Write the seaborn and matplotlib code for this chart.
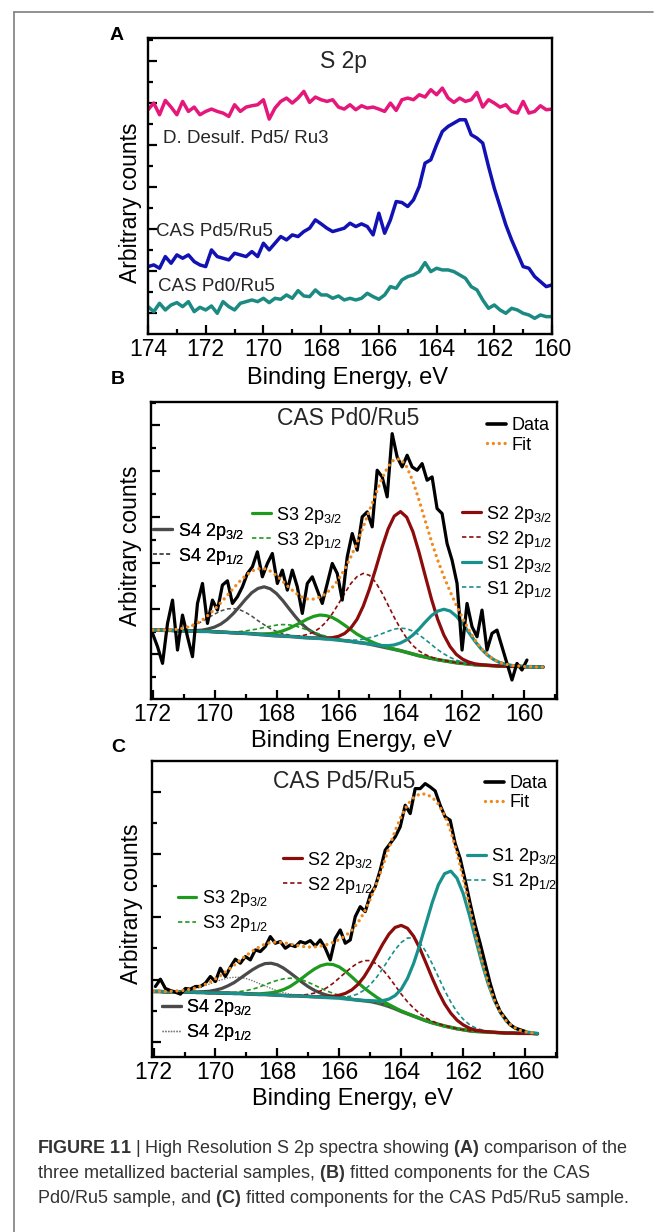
import numpy as np
import pandas as pd
import matplotlib
matplotlib.use("Agg")
import matplotlib.pyplot as plt
import seaborn as sns
from matplotlib.ticker import MultipleLocator
from matplotlib.lines import Line2D

# ---------------- data ----------------
# Panel A : survey of three samples, 174 -> 160 eV
a_energy_range = (174.0, 160.0)
a_desulf = [672, 692, 657, 700, 680, 657, 697, 667, 680, 657,
            667, 674, 667, 662, 652, 687, 667, 680, 684, 687,
            702, 644, 677, 697, 707, 692, 707, 727, 694, 710,
            702, 697, 702, 680, 674, 687, 672, 684, 677, 680,
            674, 667, 692, 670, 702, 707, 702, 717, 710, 732,
            717, 737, 707, 694, 707, 697, 702, 724, 680, 702,
            692, 680, 687, 667, 662, 697, 662, 667, 684, 672, 674]
a_pd5 = [202, 207, 197, 232, 212, 237, 227, 237, 217, 207,
         202, 252, 232, 227, 222, 242, 237, 232, 247, 232,
         272, 252, 272, 292, 282, 297, 292, 307, 317, 342,
         330, 317, 307, 312, 317, 332, 322, 330, 322, 297,
         362, 302, 342, 397, 394, 382, 402, 442, 512, 522,
         567, 607, 622, 632, 642, 642, 597, 587, 572, 502,
         437, 382, 327, 282, 242, 202, 197, 172, 157, 142, 147]
a_pd0 = [82, 67, 92, 72, 87, 94, 82, 97, 67, 80,
         72, 84, 62, 97, 82, 72, 92, 97, 102, 97,
         107, 94, 107, 104, 117, 107, 130, 114, 112, 132,
         117, 117, 107, 114, 102, 107, 102, 107, 122, 112,
         104, 117, 142, 137, 162, 172, 177, 187, 214, 187,
         197, 192, 192, 187, 177, 167, 142, 132, 102, 77,
         87, 72, 62, 77, 72, 62, 57, 47, 57, 52, 52]

# Panel B : CAS Pd0/Ru5
b_data_range = (172.0, 159.92)
b_data = [197, 157, 107, 227, 297, 147, 252, 187, 127, 287,
          347, 227, 297, 267, 342, 355, 287, 307, 337, 377,
          397, 442, 367, 407, 437, 347, 387, 327, 387, 337,
          257, 347, 367, 327, 287, 347, 407, 377, 297, 427,
          497, 447, 547, 562, 517, 687, 667, 607, 797, 727,
          697, 732, 697, 687, 707, 657, 667, 572, 557, 467,
          417, 347, 147, 287, 217, 187, 267, 147, 197, 207,
          157, 107, 57, 107, 87, 117]
b_fit_range = (172.0, 159.4)
b_background = [207, 207, 206, 206, 205, 205, 204, 204, 203, 203,
                202, 201, 200, 199, 198, 197, 196, 194, 193, 191,
                190, 189, 188, 187, 185, 184, 183, 182, 180, 179,
                177, 175, 173, 170, 168, 165, 161, 157, 153, 149,
                145, 140, 135, 130, 126, 122, 118, 115, 112, 109,
                107, 105, 103, 102, 101, 100, 99, 99, 98, 98,
                97, 97, 96, 96]
components = ["S1 2p3/2", "S1 2p1/2", "S2 2p3/2", "S2 2p1/2",
              "S3 2p3/2", "S3 2p1/2", "S4 2p3/2", "S4 2p1/2"]
b_centers = [162.54, 163.78, 163.98, 165.14, 166.49, 167.68, 168.38, 169.40]
b_heights = [155, 71, 418, 210, 71, 35, 144, 73]
b_sigma = 0.75

# Panel C : CAS Pd5/Ru5
c_data_range = (171.94, 160.0)
c_data = [212, 234, 206, 200, 195, 189, 206, 204, 212, 212,
          222, 242, 227, 267, 242, 270, 294, 282, 302, 292,
          322, 317, 332, 362, 342, 347, 327, 337, 332, 347,
          342, 350, 334, 352, 327, 292, 357, 382, 342, 352,
          422, 452, 437, 487, 512, 562, 622, 642, 662, 692,
          757, 732, 807, 807, 822, 812, 800, 757, 722, 712,
          642, 597, 532, 462, 397, 342, 282, 222, 172, 137,
          117, 97, 87, 82, 77]
c_fit_range = (172.0, 159.6)
c_background = [197, 197, 196, 196, 196, 195, 195, 194, 194, 193,
                193, 192, 192, 191, 191, 190, 189, 188, 188, 187,
                186, 185, 184, 184, 183, 182, 181, 180, 179, 178,
                177, 175, 173, 171, 169, 167, 163, 158, 152, 145,
                137, 130, 123, 116, 109, 103, 98, 93, 89, 85,
                82, 79, 77, 76, 75, 74, 73, 72, 72, 71,
                71, 71, 70]
c_centers = [162.42, 163.60, 163.92, 165.05, 166.31, 167.53, 168.23, 169.30]
c_heights = [470, 235, 260, 123, 101, 53, 95, 49]
c_sigma = 0.80

# ---------------- style ----------------
sns.set_theme(style="ticks")
plt.rcParams["font.family"] = ["Liberation Sans", "DejaVu Sans"]
plt.rcParams["mathtext.fontset"] = "custom"
plt.rcParams["mathtext.rm"] = "Liberation Sans"
plt.rcParams["mathtext.it"] = "Liberation Sans:italic"
plt.rcParams["mathtext.bf"] = "Liberation Sans:bold"
plt.rcParams["axes.linewidth"] = 1.6

C_PINK = "#E5177B"
C_BLUE = "#1111B4"
C_TEAL_A = "#1B8A82"
C_S1 = "#18918C"
C_S2 = "#8C0C0C"
C_S3 = "#1E9A1E"
C_S4 = "#4A4A4A"
C_BG = "#C0C0C0"
C_FIT = "#F0891E"
DOTS = (0, (0.01, 1.75))
DASH = (0, (2.6, 1.7))

fig = plt.figure(figsize=(6.71, 12.32), dpi=100)
W, H = 671.0, 1232.0


def add_axes(l, t, r, b):
    return fig.add_axes([l / W, 1 - b / H, (r - l) / W, (b - t) / H])


def style_axes(ax, xlim, ylim, ymajor, yminor, ylab_xy, xlab_y):
    ax.set_xlim(*xlim)
    ax.set_ylim(*ylim)
    ax.xaxis.set_major_locator(MultipleLocator(2))
    ax.xaxis.set_minor_locator(MultipleLocator(1))
    ax.set_yticks(ymajor)
    ax.set_yticks(yminor, minor=True)
    ax.set_yticklabels([])
    ax.tick_params(axis="both", which="both", direction="in",
                   top=False, right=False, left=True, bottom=True,
                   color="black", width=1.6)
    ax.tick_params(which="major", length=6.5)
    ax.tick_params(which="minor", length=3.8)
    ax.tick_params(axis="x", labelsize=16.5, pad=3.2, labelcolor="black")
    for sp in ax.spines.values():
        sp.set_linewidth(1.7)
        sp.set_color("black")
    ax.set_xlabel("Binding Energy, eV", fontsize=17, color="black")
    ax.set_ylabel("Arbitrary counts", fontsize=16.5, color="black")
    ax.yaxis.set_label_coords(*ylab_xy)
    ax.xaxis.set_label_coords(0.495, xlab_y)
    ax.grid(False)
    ax.set_facecolor("white")


def line(ax, x, y, **kw):
    df = pd.DataFrame({"x": x, "y": y})
    sns.lineplot(data=df, x="x", y="y", ax=ax, estimator=None, sort=False,
                 legend=False, **kw)


def mini_legend(ax, entries, fx, fy, spacing=0.22, hl=1.05, fs=13):
    handles, labels = [], []
    for lab, col, lw, ls in entries:
        handles.append(Line2D([], [], color=col, lw=lw, linestyle=ls,
                              dash_capstyle="round" if ls is DOTS else "butt"))
        labels.append(lab)
    leg = ax.legend(handles, labels, loc="center left", bbox_to_anchor=(fx, fy),
                    frameon=False, handlelength=hl, handletextpad=0.3,
                    labelspacing=spacing, borderpad=0, borderaxespad=0,
                    fontsize=fs)
    for t in leg.get_texts():
        t.set_color("black")
    ax.add_artist(leg)


# ---------------- Panel A ----------------
axA = add_axes(148, 38, 552, 334)
xa = np.linspace(a_energy_range[0], a_energy_range[1], len(a_desulf))
line(axA, xa, a_desulf, color=C_PINK, lw=2.5)
line(axA, xa, a_pd5, color=C_BLUE, lw=2.5)
line(axA, xa, a_pd0, color=C_TEAL_A, lw=2.5)
style_axes(axA, (174, 160), (0, 887),
           np.arange(62, 887, 126), np.arange(125, 887, 126),
           (-0.016, 0.443), -0.111)
axA.text(167.23, 817, "S 2p", fontsize=16.5, ha="center", va="center")
axA.text(173.48, 587, "D. Desulf. Pd5/ Ru3", fontsize=13.5, ha="left", va="center")
axA.text(173.71, 307, "CAS Pd5/Ru5", fontsize=13.5, ha="left", va="center")
axA.text(173.65, 142, "CAS Pd0/Ru5", fontsize=13.5, ha="left", va="center")


def fitted_panel(ax, drange, data, frange, bg, centers, heights, sigma, s4_half_style):
    xf = np.linspace(frange[0], frange[1], len(bg))
    bg = np.asarray(bg, float)
    comps = [h * np.exp(-0.5 * ((xf - c) / sigma) ** 2) for c, h in zip(centers, heights)]
    styles = [(C_S1, 2.3, "-"), (C_S1, 1.2, DASH), (C_S2, 2.3, "-"), (C_S2, 1.2, DASH),
              (C_S3, 2.3, "-"), (C_S3, 1.2, DASH), (C_S4, 2.3, "-"), s4_half_style]
    line(ax, xf, bg, color=C_BG, lw=2.8)
    order = [7, 6, 5, 4, 3, 1, 2, 0]
    for i in order:
        col, lw, ls = styles[i]
        line(ax, xf, bg + comps[i], color=col, lw=lw, linestyle=ls)
    xd = np.linspace(drange[0], drange[1], len(data))
    line(ax, xd, data, color="black", lw=2.3)
    fit = bg + np.sum(comps, axis=0)
    line(ax, xf, fit, color=C_FIT, lw=2.4, linestyle=DOTS, dash_capstyle="round")
    return styles


def lab(name):
    s, j = name.split(" 2p")
    return r"$\mathrm{" + s + r"\ 2p}_{\mathrm{" + j + "}}$"


# ---------------- Panel B ----------------
axB = add_axes(151, 402, 557, 699)
stB = fitted_panel(axB, b_data_range, b_data, b_fit_range, b_background,
                   b_centers, b_heights, b_sigma, (C_S4, 1.1, DASH))
style_axes(axB, (172.05, 158.95), (0, 892),
           np.arange(134, 892, 137.5), np.arange(65, 892, 137.5),
           (-0.023, 0.516), -0.104)
axB.text(0.486, 0.945, "CAS Pd0/Ru5", transform=axB.transAxes, fontsize=16.5,
         ha="center", va="center")
mini_legend(axB, [("Data", "black", 2.6, "-"), ("Fit", C_FIT, 2.4, DOTS)],
            0.828, 0.887, spacing=0.12, hl=1.05)
mini_legend(axB, [(lab(components[2]),) + stB[2], (lab(components[3]),) + stB[3],
                  (lab(components[0]),) + stB[0], (lab(components[1]),) + stB[1]],
            0.765, 0.496)
mini_legend(axB, [(lab(components[4]),) + stB[4], (lab(components[5]),) + stB[5]],
            0.248, 0.577)
mini_legend(axB, [(lab(components[6]),) + stB[6], (lab(components[7]),) + stB[7]],
            0.006, 0.523)

# ---------------- Panel C ----------------
axC = add_axes(152, 761, 557, 1057)
stC = fitted_panel(axC, c_data_range, c_data, c_fit_range, c_background,
                   c_centers, c_heights, c_sigma, ("#7A7A7A", 1.0, (0, (1, 1))))
style_axes(axC, (172.05, 158.97), (0, 890),
           np.arange(45, 890, 188), np.arange(139, 890, 188),
           (-0.023, 0.519), -0.105)
axC.text(0.475, 0.93, "CAS Pd5/Ru5", transform=axC.transAxes, fontsize=16.5,
         ha="center", va="center")
mini_legend(axC, [("Data", "black", 2.6, "-"), ("Fit", C_FIT, 2.4, DOTS)],
            0.822, 0.891, spacing=0.12, hl=1.05)
mini_legend(axC, [(lab(components[0]),) + stC[0], (lab(components[1]),) + stC[1]],
            0.777, 0.634)
mini_legend(axC, [(lab(components[2]),) + stC[2], (lab(components[3]),) + stC[3]],
            0.323, 0.623)
mini_legend(axC, [(lab(components[4]),) + stC[4], (lab(components[5]),) + stC[5]],
            0.063, 0.492)
mini_legend(axC, [(lab(components[6]),) + stC[6], (lab(components[7]),) + stC[7]],
            0.024, 0.125)

# ---------------- panel letters, frame, caption ----------------
for letter, (px, py) in zip("ABC", [(117, 36), (118, 379), (118, 748)]):
    fig.text(px / W, 1 - py / H, letter, fontsize=14, fontweight="bold",
             ha="center", va="center", color="black")

fig.add_artist(Line2D([14 / W, 14 / W], [1 - 12 / H, 0], transform=fig.transFigure,
                      color="#7f7f7f", lw=1.2))
fig.add_artist(Line2D([14 / W, 653 / W], [1 - 12 / H, 1 - 12 / H], transform=fig.transFigure,
                      color="#7f7f7f", lw=1.2))

caption = [
    r"$\mathbf{FIGURE\ 11}$ | High Resolution S 2p spectra showing $\mathbf{(A)}$ comparison of the",
    r"three metallized bacterial samples, $\mathbf{(B)}$ fitted components for the CAS",
    r"Pd0/Ru5 sample, and $\mathbf{(C)}$ fitted components for the CAS Pd5/Ru5 sample.",
]
for k, txt in enumerate(caption):
    fig.text(37 / W, 1 - (1153 + 25 * k) / H, txt, fontsize=13, color="#333333",
             ha="left", va="baseline")

fig.savefig("out.png", dpi=100, facecolor="white")
